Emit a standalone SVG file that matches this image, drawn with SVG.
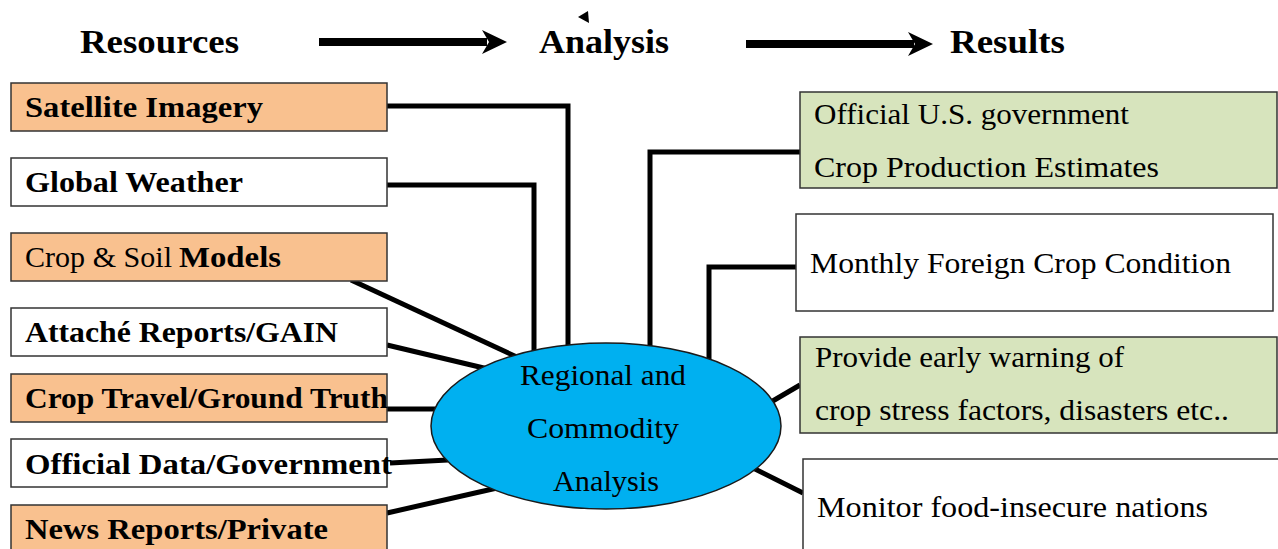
<svg xmlns="http://www.w3.org/2000/svg" width="1278" height="549" viewBox="0 0 1278 549">
<style>
text{font-family:"Liberation Serif","DejaVu Serif",serif;fill:#000}
.h{font-size:34px;font-weight:bold}
.b{font-size:30px;font-weight:bold}
.r{font-size:30px}
.peach{fill:#F9C18F;stroke:#333;stroke-width:1.5}
.white{fill:#fff;stroke:#333;stroke-width:1.5}
.green{fill:#D7E4BD;stroke:#333;stroke-width:1.5}
.conn{fill:none;stroke:#000;stroke-width:5;stroke-linejoin:miter}
</style>
<rect width="1278" height="549" fill="#fff"/>
<g id="header">
<text class="h" x="80" y="53" textLength="159" lengthAdjust="spacingAndGlyphs">Resources</text>
<text class="h" x="539" y="53" textLength="130" lengthAdjust="spacingAndGlyphs">Analysis</text>
<text class="h" x="950" y="53" textLength="115" lengthAdjust="spacingAndGlyphs">Results</text>
<polygon points="578,17 588,11 589,23" fill="#000"/>
<rect x="319" y="38" width="168" height="8" fill="#000"/>
<polygon points="482,30 507,42 482,54 489,42" fill="#000"/>
<rect x="746" y="40" width="168" height="8" fill="#000"/>
<polygon points="908,32 933,44 908,56 915,44" fill="#000"/>
</g>
<g id="connectors">
<polyline class="conn" points="387,106 568,106 568,347"/>
<polyline class="conn" points="387,185 534,185 534,353"/>
<line class="conn" x1="351" y1="280" x2="519" y2="358"/>
<line class="conn" x1="387" y1="345" x2="488" y2="369"/>
<line class="conn" x1="387" y1="409" x2="436" y2="409"/>
<line class="conn" x1="390" y1="463" x2="448" y2="460"/>
<line class="conn" x1="387" y1="513" x2="497" y2="488"/>
<polyline class="conn" points="800,152 650,152 650,347"/>
<polyline class="conn" points="796,267 709,267 709,360"/>
<line class="conn" x1="800" y1="385" x2="771" y2="402"/>
<line class="conn" x1="753" y1="468" x2="803" y2="493"/>
</g>
<g id="satellite">
<rect class="peach" x="11" y="83" width="376" height="48"/>
<text class="b" x="25" y="117" textLength="238" lengthAdjust="spacingAndGlyphs">Satellite Imagery</text>
</g>
<g id="weather">
<rect class="white" x="11" y="158" width="376" height="48"/>
<text class="b" x="25" y="192" textLength="218" lengthAdjust="spacingAndGlyphs">Global Weather</text>
</g>
<g id="models">
<rect class="peach" x="11" y="233" width="376" height="48"/>
<text class="r" x="25" y="267" textLength="147" lengthAdjust="spacingAndGlyphs">Crop &amp; Soil</text>
<text class="b" x="179" y="267" textLength="102" lengthAdjust="spacingAndGlyphs">Models</text>
</g>
<g id="attache">
<rect class="white" x="11" y="308" width="376" height="48"/>
<text class="b" x="25" y="342" textLength="313" lengthAdjust="spacingAndGlyphs">Attaché Reports/GAIN</text>
</g>
<g id="travel">
<rect class="peach" x="11" y="374" width="376" height="48"/>
<text class="b" x="25" y="408" textLength="363" lengthAdjust="spacingAndGlyphs">Crop Travel/Ground Truth</text>
</g>
<g id="official-data">
<rect class="white" x="11" y="439" width="376" height="48"/>
<text class="b" x="25" y="474" textLength="367" lengthAdjust="spacingAndGlyphs">Official Data/Government</text>
</g>
<g id="news">
<rect class="peach" x="11" y="505" width="376" height="60"/>
<text class="b" x="25" y="539" textLength="303" lengthAdjust="spacingAndGlyphs">News Reports/Private</text>
</g>
<g id="analysis">
<ellipse cx="606" cy="426" rx="175" ry="83" fill="#00B0F0" stroke="#1a1a1a" stroke-width="1.5"/>
<text class="r" x="520" y="385" textLength="166" lengthAdjust="spacingAndGlyphs">Regional and</text>
<text class="r" x="527" y="438" textLength="152" lengthAdjust="spacingAndGlyphs">Commodity</text>
<text class="r" x="553" y="491" textLength="106" lengthAdjust="spacingAndGlyphs">Analysis</text>
</g>
<g id="estimates">
<rect class="green" x="800" y="92" width="477" height="96"/>
<text class="r" x="814" y="124" textLength="315" lengthAdjust="spacingAndGlyphs">Official U.S. government</text>
<text class="r" x="814" y="177" textLength="345" lengthAdjust="spacingAndGlyphs">Crop Production Estimates</text>
</g>
<g id="monthly">
<rect class="white" x="796" y="214" width="477" height="97"/>
<text class="r" x="810" y="273" textLength="421" lengthAdjust="spacingAndGlyphs">Monthly Foreign Crop Condition</text>
</g>
<g id="warning">
<rect class="green" x="800" y="337" width="477" height="96"/>
<text class="r" x="815" y="367" textLength="309" lengthAdjust="spacingAndGlyphs">Provide early warning of</text>
<text class="r" x="815" y="420" textLength="414" lengthAdjust="spacingAndGlyphs">crop stress factors, disasters etc..</text>
</g>
<g id="monitor">
<rect class="white" x="803" y="459" width="490" height="100"/>
<text class="r" x="817" y="517" textLength="391" lengthAdjust="spacingAndGlyphs">Monitor food-insecure nations</text>
</g>
</svg>
